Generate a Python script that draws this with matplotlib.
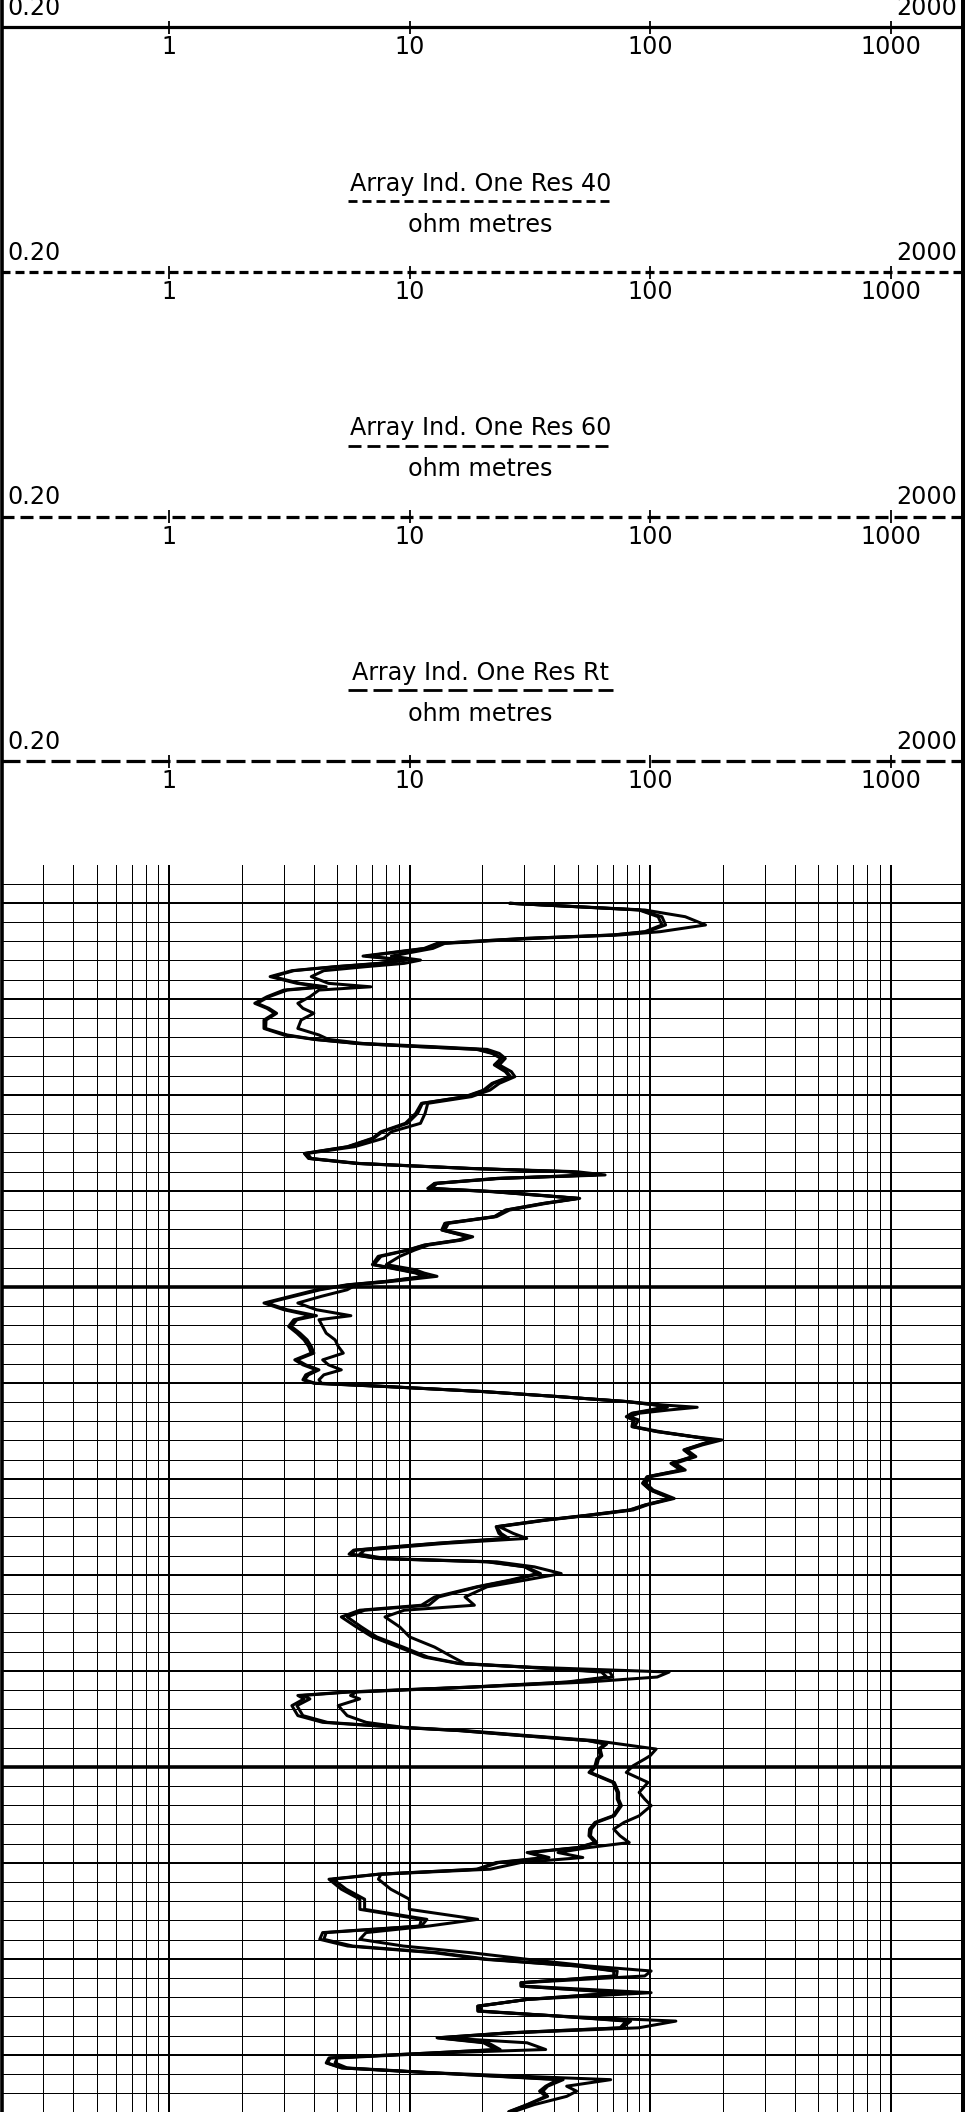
import matplotlib
matplotlib.use("Agg")
import matplotlib.pyplot as plt

plt.rcParams['font.family'] = ['DejaVu Sans']
plt.rcParams['lines.scale_dashes'] = False

# ---------------- data ----------------
scale_min, scale_max = 0.2, 2000
scale_ticks = [1, 10, 100, 1000]
scale_tick_labels = ["1", "10", "100", "1000"]
curve_titles = ["Array Ind. One Res 40", "Array Ind. One Res 60", "Array Ind. One Res Rt"]
unit_label = "ohm metres"

depth = [
    1130.03, 1130.38, 1130.73, 1131.16, 1131.51, 1131.68, 1131.86, 1132.12, 1132.38, 1132.78,
    1132.99, 1133.16, 1133.33, 1133.54, 1133.85, 1134.20, 1134.38, 1134.55, 1134.90, 1135.24,
    1135.50, 1135.76, 1136.11, 1136.55, 1136.89, 1137.12, 1137.33, 1137.50, 1137.64, 1137.85,
    1138.11, 1138.45, 1138.80, 1139.06, 1139.41, 1139.76, 1140.10, 1140.45, 1140.97, 1141.49,
    1141.93, 1142.27, 1142.71, 1143.06, 1143.32, 1143.58, 1143.84, 1144.01, 1144.18, 1144.36,
    1144.62, 1144.88, 1145.05, 1145.40, 1145.66, 1146.01, 1146.35, 1146.70, 1147.05, 1147.40,
    1147.57, 1147.83, 1148.09, 1148.42, 1148.85, 1149.11, 1149.29, 1149.46, 1149.72, 1149.90,
    1150.16, 1150.50, 1150.85, 1151.20, 1151.51, 1151.72, 1152.07, 1152.42, 1152.77, 1153.11,
    1153.46, 1153.81, 1154.07, 1154.33, 1154.59, 1154.85, 1155.03, 1155.20, 1155.46, 1155.72,
    1155.98, 1156.16, 1156.28, 1156.42, 1156.59, 1156.77, 1156.94, 1157.29, 1157.55, 1157.81,
    1157.98, 1158.24, 1158.50, 1158.85, 1159.20, 1159.55, 1159.90, 1160.24, 1160.59, 1161.03,
    1161.37, 1161.63, 1161.90, 1162.16, 1162.50, 1162.85, 1163.11, 1163.37, 1163.72, 1163.93,
    1164.16, 1164.33, 1164.59, 1164.94, 1165.29, 1165.63, 1166.16, 1166.59, 1166.85, 1167.20,
    1167.72, 1168.24, 1168.77, 1169.29, 1169.63, 1169.81, 1170.07, 1170.33, 1170.59, 1170.85,
    1171.11, 1171.29, 1171.47, 1171.82, 1172.34, 1172.69, 1172.95, 1173.12, 1173.38, 1173.64,
    1173.82, 1174.08, 1174.43, 1174.60, 1174.95, 1175.30, 1175.82, 1176.34, 1176.69, 1177.03,
    1177.56, 1177.90, 1178.25, 1178.60, 1178.95, 1179.21, 1179.47, 1179.73, 1179.99, 1180.34,
    1180.60, 1180.86, 1181.38, 1181.90, 1182.43, 1182.95, 1183.30, 1183.64, 1183.99, 1184.34,
    1184.69, 1185.03, 1185.38, 1185.64, 1185.90, 1186.25, 1186.43, 1186.77, 1187.12, 1187.47,
    1187.73, 1187.99, 1188.25, 1188.60, 1188.86, 1189.12, 1189.38, 1189.73, 1189.90, 1190.17,
    1190.43, 1190.69, 1190.95, 1191.30, 1191.64, 1191.90, 1192.17, 1192.60, 1192.97,
]

res40 = [
    26.1, 90, 108, 112, 95, 70, 30, 13, 11.5, 6.4,
    9.5, 7.4, 4.9, 3.24, 2.63, 3.4, 4.3, 3.0, 2.55, 2.27,
    2.55, 2.75, 2.48, 2.48, 3.0, 4.0, 6.0, 11, 19, 22,
    24, 22.5, 25, 26, 22, 20.3, 17, 11.2, 10.6, 9.6,
    7.6, 7.0, 5.5, 3.65, 3.8, 6.0, 17.5, 45, 58, 23,
    12.7, 11.9, 22, 50, 36, 25, 22.5, 14, 13.6, 17.5,
    16, 11.5, 9.8, 7.4, 7.0, 9.0, 10.6, 11.5, 8.0, 5.5,
    4.1, 3.2, 2.48, 3.0, 3.9, 3.3, 3.14, 3.4, 3.64, 3.8,
    3.9, 3.33, 3.6, 4.1, 3.7, 3.6, 4.0, 7.9, 20, 41,
    79, 105, 113, 100, 84, 79.6, 85, 84, 107, 150,
    185, 160, 138, 150, 122, 134, 97, 93, 100, 122,
    95, 82, 55, 36, 22.9, 23.5, 25, 12.7, 5.85, 5.6,
    7.4, 21, 30, 34, 26, 19, 12.7, 11.2, 6.2, 5.2,
    6.0, 7.0, 9.0, 11.5, 16, 30, 62.8, 66, 45, 18,
    5.5, 3.43, 3.64, 3.24, 3.43, 4.35, 9.0, 16, 29, 55,
    65, 61, 62, 60, 59, 55.7, 70, 73, 73, 75,
    70, 59, 56, 55.7, 59, 50, 30.8, 36.8, 22.9, 19,
    7.4, 4.62, 5.2, 6.21, 6.21, 11.2, 11, 4.35, 4.23, 5.52,
    12.7, 20.3, 49.5, 70.6, 70.6, 29, 29, 75, 30.8, 19.2,
    19.2, 41.4, 79.6, 75, 25.8, 13, 20.3, 22.9, 12.7, 4.62,
    4.5, 5.2, 12.7, 41.4, 36.8, 34.7, 36.8, 30.8, 25.8,
]

res60 = [
    26.1, 91, 112, 116, 97, 71, 30.5, 13.2, 11.7, 6.6,
    9.7, 7.6, 5.0, 3.3, 2.7, 3.5, 4.5, 3.1, 2.6, 2.32,
    2.6, 2.8, 2.53, 2.52, 3.1, 4.05, 6.05, 11.2, 19.4, 22.3,
    24.2, 22.8, 25.3, 26.3, 22.3, 20.6, 17.2, 11.3, 10.8, 9.8,
    7.7, 7.1, 5.55, 3.67, 3.82, 6.05, 17.6, 46, 59.5, 23.2,
    12.7, 12.0, 22.2, 50.2, 36.2, 25.2, 22.6, 14.1, 13.7, 17.7,
    16.1, 11.6, 9.9, 7.6, 7.1, 9.2, 10.8, 11.8, 8.1, 5.6,
    4.25, 3.3, 2.55, 3.1, 4.1, 3.4, 3.22, 3.5, 3.75, 3.9,
    4.0, 3.4, 3.7, 4.2, 3.8, 3.65, 4.05, 7.95, 20, 41.1,
    79.2, 106, 118, 104, 85, 80, 86, 84.5, 107.5, 150.5,
    187, 161, 139, 151, 123, 135, 97.5, 93.5, 100.5, 123,
    95.5, 82.5, 55.5, 36.2, 23, 24, 25.8, 12.9, 5.95, 5.7,
    7.5, 21.4, 30.4, 35, 26.6, 19.3, 13.2, 12, 6.5, 5.5,
    6.3, 7.3, 9.4, 11.9, 16.2, 30.2, 68, 70, 46.5, 18.2,
    5.6, 3.6, 3.85, 3.4, 3.6, 4.55, 9.1, 16.2, 29.3, 55.5,
    66, 62, 63, 61, 60, 56.5, 71, 74, 74, 76,
    71, 60, 57, 56.5, 60, 50.5, 31.5, 38, 23.5, 19.3,
    7.45, 4.8, 5.45, 6.5, 6.5, 11.8, 11.2, 4.5, 4.4, 5.8,
    13.2, 21.2, 50, 73, 72.5, 29.1, 29.2, 77, 30.8, 19.2,
    19.3, 41.5, 83, 76.5, 26, 13.1, 21.2, 23.8, 12.8, 4.68,
    4.55, 5.25, 12.7, 43.5, 37.5, 35.8, 37.5, 31, 26,
]

res_rt = [
    26.1, 95, 140, 170, 110, 75, 33, 14, 12.5, 8.4,
    11.1, 9.5, 6.6, 4.4, 3.9, 4.6, 6.9, 4.2, 3.85, 3.43,
    3.6, 4.0, 3.54, 3.43, 4.2, 4.6, 6.4, 12.7, 21, 23.6,
    25, 23.6, 26.5, 27.4, 23.6, 21.6, 18.1, 11.9, 11.6, 11.1,
    8.4, 7.8, 5.9, 3.75, 3.9, 6.2, 18.1, 49.5, 65, 24,
    13, 12.3, 23, 51, 37, 26, 23, 14.5, 14, 18.3,
    16.5, 12, 10.5, 9.1, 8.0, 10.5, 11.5, 13.0, 8.5, 6.0,
    5.5, 4.3, 3.43, 4.1, 5.7, 4.2, 4.35, 4.5, 4.9, 5.05,
    5.3, 4.35, 4.6, 5.2, 4.4, 4.2, 4.3, 8.1, 20.3, 41.4,
    80, 113, 157, 120, 90, 82, 89.6, 86, 110, 153,
    199, 165, 142, 155, 127, 140, 100, 96, 103, 126,
    97, 85, 57, 37, 23.6, 27, 30.7, 14, 6.5, 6.2,
    8.0, 23, 33, 42.7, 30, 21, 17, 18.6, 9.5, 7.9,
    9.1, 10, 12.7, 15.1, 17, 31, 120, 107, 55, 19,
    6.0, 5.68, 6.2, 5.05, 5.5, 6.6, 9.4, 17, 31, 59,
    75, 106, 100, 95, 85, 79.6, 98, 90, 95, 101,
    90, 78, 70.6, 75, 81.9, 55.7, 41.4, 52.5, 29, 21.6,
    7.6, 7.42, 8.35, 9.98, 9.98, 19.2, 12, 6.59, 6.21, 9.41,
    18.1, 30.8, 55.7, 101, 95, 29.5, 30, 101, 31, 19.5,
    20, 42, 128, 89.6, 27, 14, 30.8, 36.8, 14, 5,
    4.9, 5.5, 13, 68.6, 45, 49.5, 45, 33, 27,
]

# ---------------- layout (pixels) ----------------
W, H, DPI = 971, 2112, 100
PX = 72.0 / DPI            # one pixel expressed in points
FS = 17.2                  # font size (pt)

TRACK_L, TRACK_R = 1.0, 963.0
GRID_TOP = 865.0
PX_PER_M = 19.2
REF_DEPTH, REF_PX = 1130.0, 902.7
depth_top = REF_DEPTH - (REF_PX - GRID_TOP) / PX_PER_M
depth_bot = REF_DEPTH + (H - REF_PX) / PX_PER_M

# dash patterns in pixels
DASH_40 = (9, 5)
DASH_60 = (13, 6)
DASH_RT = (19, 6)

def pts(pattern):
    return tuple(p * PX for p in pattern)

fig = plt.figure(figsize=(W / DPI, H / DPI), dpi=DPI)
fig.patch.set_facecolor("white")

# pixel overlay axes
pix = fig.add_axes([0, 0, 1, 1])
pix.set_xlim(0, W)
pix.set_ylim(H, 0)
pix.axis("off")

# header axes: log x, pixel y
hdr = fig.add_axes([TRACK_L / W, 1 - GRID_TOP / H, (TRACK_R - TRACK_L) / W, GRID_TOP / H])
hdr.set_xscale("log")
hdr.set_xlim(scale_min, scale_max)
hdr.set_ylim(GRID_TOP, 0)
hdr.axis("off")

# track axes: log x, depth y
trk = fig.add_axes([TRACK_L / W, 0, (TRACK_R - TRACK_L) / W, (H - GRID_TOP) / H])
trk.set_xscale("log")
trk.set_xlim(scale_min, scale_max)
trk.set_ylim(depth_bot, depth_top)
trk.axis("off")

# ---------------- header ----------------
scale_line_y = [27.0, 272.0, 516.5, 761.0]
scale_dashes = [None, DASH_40, DASH_60, DASH_RT]
titles = [None] + curve_titles

for L, dsh, title in zip(scale_line_y, scale_dashes, titles):
    kw = dict(color="k", lw=3.2 * PX, solid_capstyle="butt", dash_capstyle="butt", clip_on=False)
    if dsh is None:
        hdr.plot([scale_min, scale_max], [L, L], **kw)
    else:
        hdr.plot([scale_min, scale_max], [L, L], dashes=pts(dsh), **kw)
    for t, lab in zip(scale_ticks, scale_tick_labels):
        hdr.plot([t, t], [L - 6.5, L + 6.5], color="k", lw=1.8 * PX, solid_capstyle="butt")
        hdr.text(t, L + 27, lab, ha="center", va="baseline", fontsize=FS)
    pix.text(7, L - 12, "0.20", ha="left", va="baseline", fontsize=FS)
    pix.text(957, L - 12, "2000", ha="right", va="baseline", fontsize=FS)
    if title is not None:
        pix.text(480.5, L - 81, title, ha="center", va="baseline", fontsize=FS)
        pix.plot([348, 613], [L - 71, L - 71], color="k", lw=2.8 * PX,
                 dashes=pts(dsh), dash_capstyle="butt")
        pix.text(480.5, L - 40, unit_label, ha="center", va="baseline", fontsize=FS)

# ---------------- grid ----------------
decades = [1, 10, 100, 1000]
minor_vals = [m * d for d in [0.1, 1, 10, 100] for m in range(2, 10) if scale_min < m * d < scale_max]
for v in minor_vals:
    trk.axvline(v, color="k", lw=1.0 * PX, zorder=1)
for v in decades:
    trk.axvline(v, color="k", lw=2.0 * PX, zorder=1)
for d in range(1129, 1193):
    if d % 25 == 0:
        lw = 3.6
    elif d % 5 == 0:
        lw = 2.0
    else:
        lw = 1.0
    trk.axhline(d, color="k", lw=lw * PX, zorder=1)

# ---------------- curves ----------------
curve_kw = dict(color="k", lw=3.0 * PX, zorder=3, solid_joinstyle="round", solid_capstyle="round")
trk.plot(res40, depth, **curve_kw)
trk.plot(res60, depth, **curve_kw)
trk.plot(res_rt, depth, **curve_kw)

# ---------------- borders ----------------
pix.plot([1.5, 1.5], [0, H], color="k", lw=3.6 * PX, solid_capstyle="butt", zorder=5)
pix.plot([963, 963], [0, H], color="k", lw=4.0 * PX, solid_capstyle="butt", zorder=5)

fig.savefig("out.png", dpi=DPI, facecolor="white")
